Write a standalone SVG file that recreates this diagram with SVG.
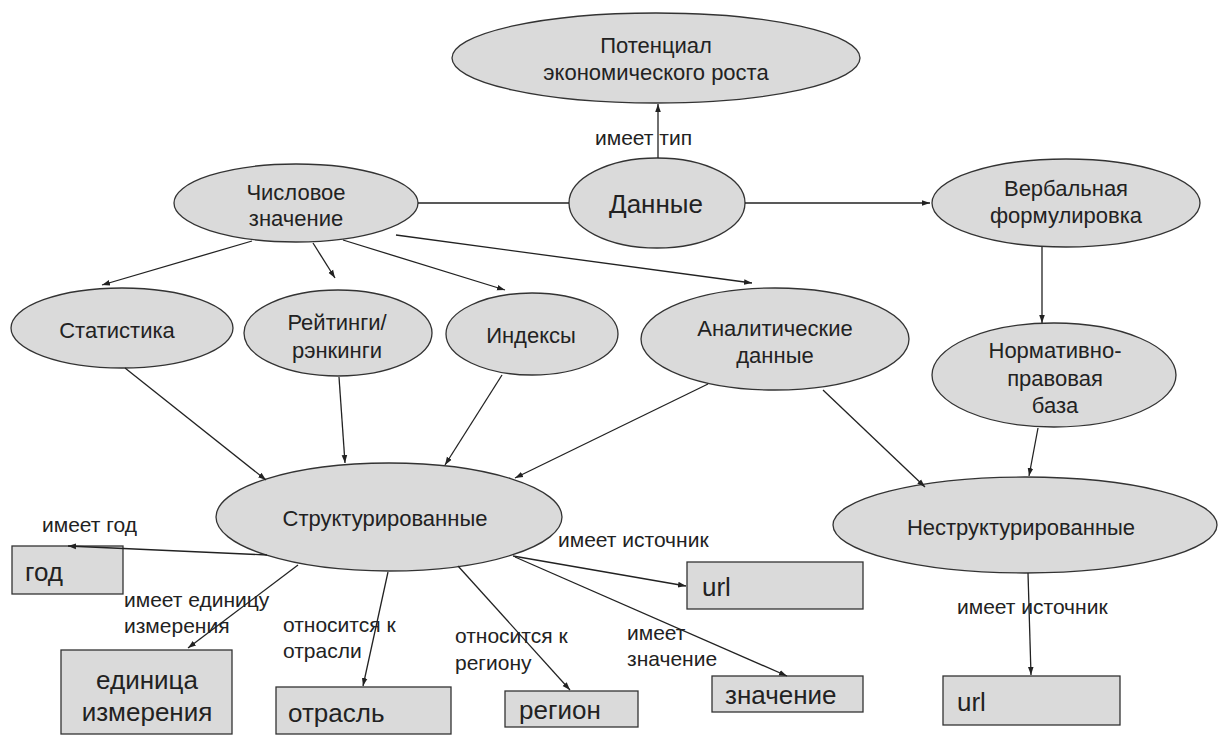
<svg xmlns="http://www.w3.org/2000/svg" width="1218" height="735" viewBox="0 0 1218 735">
<defs>
<marker id="ah" viewBox="0 0 10 10" refX="10" refY="5" markerWidth="8" markerHeight="8" markerUnits="userSpaceOnUse" orient="auto">
<path d="M0,1.5 L10,5 L0,8.5 z" fill="#222"/>
</marker>
<style>
.n{fill:#dadada;stroke:#333;stroke-width:1.3}
.t{font-family:"Liberation Sans",Arial,sans-serif;font-size:22px;fill:#222;text-anchor:middle}
.tb{font-family:"Liberation Sans",Arial,sans-serif;font-size:26px;fill:#222}
.l{font-family:"Liberation Sans",Arial,sans-serif;font-size:21px;fill:#222}
.e{stroke:#222;stroke-width:1.3;fill:none}
.a{marker-end:url(#ah)}
</style>
</defs>
<rect width="1218" height="735" fill="#fff"/>
<g id="n-potential">
<ellipse class="n" cx="656" cy="58" rx="204" ry="45"/>
<text class="t" x="656" y="53">Потенциал</text>
<text class="t" x="656" y="80">экономического роста</text>
</g>
<g id="n-data">
<ellipse class="n" cx="657" cy="203" rx="88" ry="45"/>
<text class="tb" x="656" y="213" text-anchor="middle">Данные</text>
</g>
<g id="n-numeric">
<ellipse class="n" cx="296" cy="203" rx="122" ry="39"/>
<text class="t" x="296" y="200">Числовое</text>
<text class="t" x="296" y="226">значение</text>
</g>
<g id="n-verbal">
<ellipse class="n" cx="1066" cy="203" rx="134" ry="44"/>
<text class="t" x="1066" y="196">Вербальная</text>
<text class="t" x="1066" y="223">формулировка</text>
</g>
<g id="n-stat">
<ellipse class="n" cx="122" cy="328" rx="111" ry="40"/>
<text class="t" x="117" y="338">Статистика</text>
</g>
<g id="n-ratings">
<ellipse class="n" cx="338" cy="333" rx="94" ry="43"/>
<text class="t" x="337" y="330">Рейтинги/</text>
<text class="t" x="337" y="358">рэнкинги</text>
</g>
<g id="n-indexes">
<ellipse class="n" cx="532" cy="334" rx="86" ry="41"/>
<text class="t" x="531" y="343">Индексы</text>
</g>
<g id="n-analytic">
<ellipse class="n" cx="775" cy="339" rx="134" ry="51"/>
<text class="t" x="775" y="336">Аналитические</text>
<text class="t" x="775" y="363">данные</text>
</g>
<g id="n-normative">
<ellipse class="n" cx="1054" cy="375" rx="122" ry="52"/>
<text class="t" x="1055" y="358">Нормативно-</text>
<text class="t" x="1055" y="386">правовая</text>
<text class="t" x="1055" y="413">база</text>
</g>
<g id="n-structured">
<ellipse class="n" cx="389" cy="517" rx="173" ry="54"/>
<text class="t" x="385" y="526">Структурированные</text>
</g>
<g id="n-unstructured">
<ellipse class="n" cx="1025" cy="525" rx="192" ry="48"/>
<text class="t" x="1021" y="535">Неструктурированные</text>
</g>
<g id="b-year">
<rect class="n" x="12" y="546" width="111" height="48"/>
<text class="tb" x="25" y="581">год</text>
</g>
<g id="b-unit">
<rect class="n" x="61" y="650" width="171" height="84"/>
<text class="tb" x="147" y="689" text-anchor="middle">единица</text>
<text class="tb" x="147" y="721" text-anchor="middle">измерения</text>
</g>
<g id="b-branch">
<rect class="n" x="276" y="687" width="175" height="47"/>
<text class="tb" x="288" y="722">отрасль</text>
</g>
<g id="b-region">
<rect class="n" x="505" y="691" width="133" height="36"/>
<text class="tb" x="519" y="719">регион</text>
</g>
<g id="b-url1">
<rect class="n" x="687" y="562" width="176" height="47"/>
<text class="tb" x="702" y="596">url</text>
</g>
<g id="b-value">
<rect class="n" x="712" y="676" width="151" height="36"/>
<text class="tb" x="725" y="704">значение</text>
</g>
<g id="b-url2">
<rect class="n" x="943" y="676" width="177" height="49"/>
<text class="tb" x="957" y="711">url</text>
</g>
<g id="connectors">
<line class="e a" x1="658" y1="158" x2="658" y2="104"/>
<line class="e" x1="418" y1="203" x2="569" y2="203"/>
<line class="e a" x1="745" y1="203" x2="930" y2="203"/>
<line class="e a" x1="1042" y1="247" x2="1042" y2="323"/>
<line class="e a" x1="252" y1="241" x2="102" y2="285"/>
<line class="e a" x1="313" y1="243" x2="335" y2="278"/>
<line class="e a" x1="343" y1="240" x2="505" y2="290"/>
<line class="e a" x1="396" y1="235" x2="752" y2="283"/>
<line class="e a" x1="125" y1="368" x2="266" y2="480"/>
<line class="e a" x1="339" y1="377" x2="345" y2="463"/>
<line class="e a" x1="502" y1="375" x2="445" y2="465"/>
<line class="e a" x1="708" y1="384" x2="515" y2="478"/>
<line class="e a" x1="823" y1="390" x2="925" y2="487"/>
<line class="e a" x1="1038" y1="428" x2="1029" y2="476"/>
<line class="e a" x1="267" y1="555" x2="68" y2="546"/>
<line class="e a" x1="298" y1="565" x2="188" y2="648"/>
<line class="e a" x1="388" y1="572" x2="363" y2="686"/>
<line class="e a" x1="458" y1="566" x2="570" y2="690"/>
<line class="e a" x1="513" y1="556" x2="686" y2="586"/>
<line class="e a" x1="515" y1="557" x2="787" y2="676"/>
<line class="e a" x1="1028" y1="573" x2="1031" y2="675"/>
<text class="l" x="595" y="145">имеет тип</text>
<text class="l" x="42" y="532">имеет год</text>
<text class="l" x="124" y="607">имеет единицу</text>
<text class="l" x="124" y="633">измерения</text>
<text class="l" x="283" y="632">относится к</text>
<text class="l" x="283" y="658">отрасли</text>
<text class="l" x="455" y="643">относится к</text>
<text class="l" x="455" y="670">региону</text>
<text class="l" x="558" y="547">имеет источник</text>
<text class="l" x="627" y="640">имеет</text>
<text class="l" x="627" y="666">значение</text>
<text class="l" x="957" y="614">имеет источник</text>
</g>
</svg>
